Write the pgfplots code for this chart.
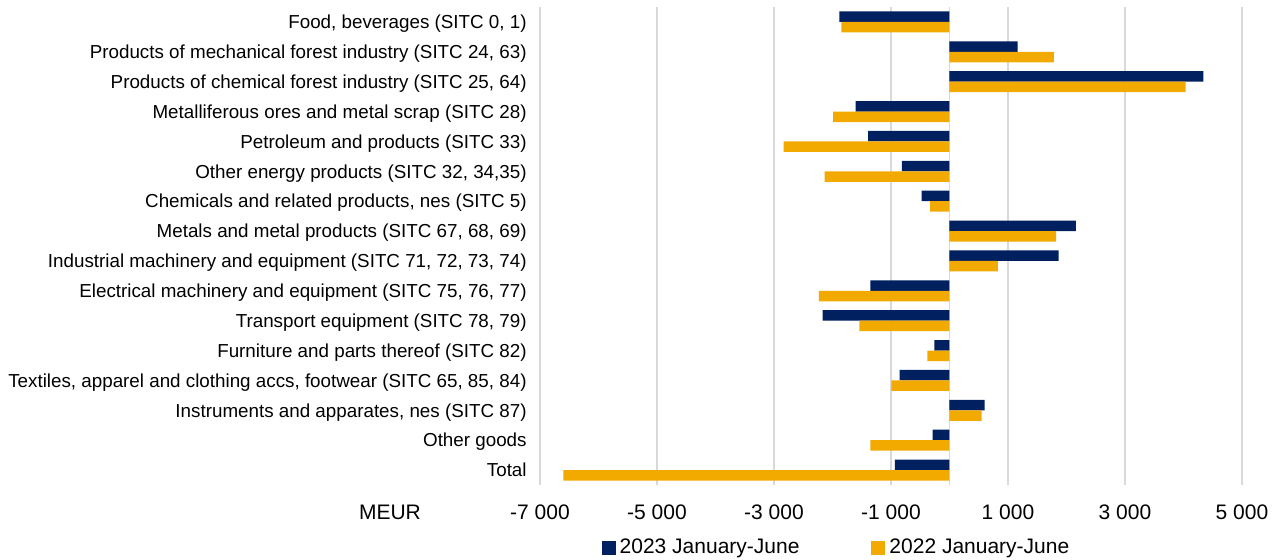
\documentclass[border=0pt]{standalone}
\usepackage{fontspec}
\setmainfont{Liberation Sans}
\usepackage{pgfplots}
\pgfplotsset{compat=1.18}
\usetikzlibrary{calc}
\definecolor{navy}{RGB}{0,32,96}
\definecolor{gold}{RGB}{242,170,0}
\definecolor{gridgrey}{RGB}{217,217,217}
\begin{document}
\begin{tikzpicture}
\begin{axis}[
  scale only axis, width=351pt, height=239pt,
  xbar, bar width=5.25pt,
  xmin=-7000, xmax=5000, ymin=-0.5, ymax=15.5,
  clip=false,
  axis line style={draw=none}, tick style={draw=none}, major tick length=0pt,
  xtick={-7000,-5000,-3000,-1000,1000,3000,5000},
  xticklabels={-7 000,-5 000,-3 000,-1 000,1 000,3 000,5 000},
  xmajorgrids, grid style={gridgrey, line width=0.75pt},
  extra x ticks={0}, extra x tick labels={},
  extra x tick style={grid=major},
  xticklabel style={anchor=center, yshift=-13.5pt, font=\fontsize{10.5}{12}\selectfont},
  ytick={0,...,15},
  yticklabels={Total, Other goods, {Instruments and apparates, nes (SITC 87)}, {Textiles, apparel and clothing accs, footwear (SITC 65, 85, 84)}, Furniture and parts thereof (SITC 82), {Transport equipment (SITC 78, 79)}, {Electrical machinery and equipment (SITC 75, 76, 77)}, {Industrial machinery and equipment (SITC 71, 72, 73, 74)}, {Metals and metal products (SITC 67, 68, 69)}, {Chemicals and related products, nes (SITC 5)}, {Other energy products (SITC 32, 34,35)}, Petroleum and products (SITC 33), Metalliferous ores and metal scrap (SITC 28), {Products of chemical forest industry (SITC 25, 64)}, {Products of mechanical forest industry (SITC 24, 63)}, {Food, beverages (SITC 0, 1)}},
  yticklabel style={anchor=base east, inner xsep=0pt, inner ysep=0pt, xshift=-6.5pt, yshift=-3.4pt, font=\fontsize{9.4}{11}\selectfont},
  legend columns=2,
  legend style={at={(axis description cs:0.4238,-0.1318)}, anchor=center, draw=none, fill=none, inner sep=0pt,
    font=\fontsize{10.5}{12}\selectfont,
    /tikz/every even column/.append style={column sep=34pt}},
  legend image code/.code={\fill[#1] (0pt,-3.5pt) rectangle (7pt,3.5pt);},
]
\addplot[fill=navy, draw=none, bar shift=2.625pt] table {
x y
-1882 15
1163 14
4339 13
-1604 12
-1392 11
-812 10
-478 9
2159 8
1865 7
-1351 6
-2167 5
-257 4
-853 3
600 2
-290 1
-935 0
};
\addlegendentry{2023 January-June}
\addplot[fill=gold, draw=none, bar shift=-2.625pt] table {
x y
-1849 15
1784 14
4037 13
-1988 12
-2837 11
-2135 10
-331 9
1824 8
829 7
-2233 6
-1539 5
-380 4
-992 3
551 2
-1351 1
-6600 0
};
\addlegendentry{2022 January-June}
\node[anchor=center, yshift=-13.5pt, font=\fontsize{10.5}{12}\selectfont] at (axis description cs:-0.2137,0) {MEUR};
\coordinate (pSW) at (rel axis cs:0,0);
\coordinate (pNE) at (rel axis cs:1,1);
\end{axis}
\pgfresetboundingbox
\path[use as bounding box] ($(pSW)+(-270pt,-37.5pt)$) rectangle ($(pNE)+(18pt,3.5pt)$);
\end{tikzpicture}
\end{document}
